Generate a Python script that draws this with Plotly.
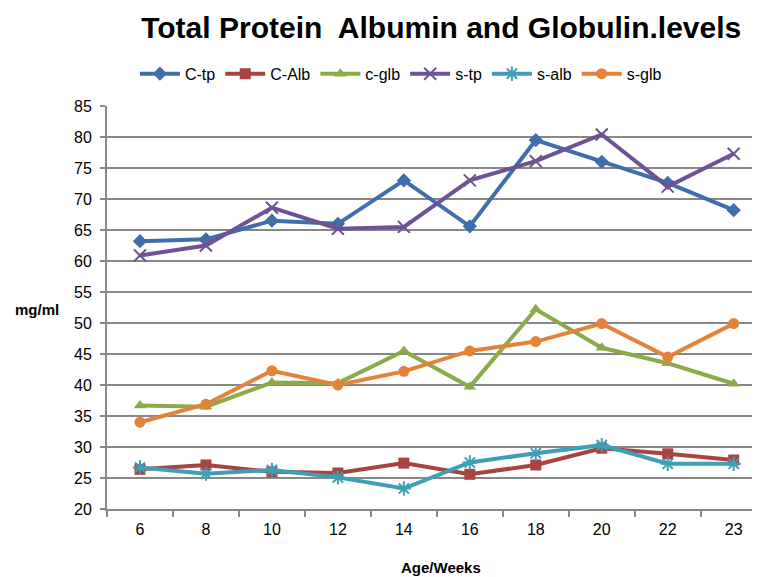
import plotly.graph_objects as go

weeks = ["6", "8", "10", "12", "14", "16", "18", "20", "22", "23"]
c_tp = [63.2, 63.5, 66.5, 66.0, 73.0, 65.6, 79.5, 76.0, 72.6, 68.2]
c_alb = [26.4, 27.1, 26.0, 25.8, 27.4, 25.6, 27.1, 29.8, 28.9, 27.9]
c_glb = [36.7, 36.5, 40.4, 40.3, 45.5, 39.7, 52.2, 46.0, 43.5, 40.2]
s_tp = [60.9, 62.5, 68.6, 65.2, 65.5, 73.0, 76.1, 80.4, 72.0, 77.3]
s_alb = [26.7, 25.7, 26.3, 25.1, 23.3, 27.5, 29.0, 30.3, 27.3, 27.3]
s_glb = [34.0, 36.9, 42.3, 40.0, 42.2, 45.5, 47.0, 49.9, 44.5, 49.9]

series = [
    ("C-tp", c_tp, "#3F6FAA", "diamond"),
    ("C-Alb", c_alb, "#A9433F", "square"),
    ("c-glb", c_glb, "#8AAB4A", "triangle-up"),
    ("s-tp", s_tp, "#6D5394", "x-thin-open"),
    ("s-alb", s_alb, "#3E9FB6", "asterisk-open"),
    ("s-glb", s_glb, "#E5823A", "circle"),
]

fig = go.Figure()
for name, vals, col, sym in series:
    open_sym = sym.endswith("-open")
    fig.add_trace(go.Scatter(
        x=weeks, y=vals, name=name, mode="lines+markers",
        line=dict(color=col, width=4),
        marker=dict(symbol=sym, size=11 if not open_sym else 12, color=col,
                    line=dict(color=col, width=2 if open_sym else 0)),
    ))

fig.update_layout(
    width=760, height=577,
    margin=dict(l=99, r=0, t=98, b=76, autoexpand=False),
    paper_bgcolor="white", plot_bgcolor="white",
    font=dict(family="Liberation Sans, Arial, sans-serif", size=15, color="black"),
    title=dict(text="<b>Total Protein  Albumin and Globulin.levels</b>",
               x=0.570, xanchor="center", y=0.967, yanchor="middle",
               font=dict(size=30, color="black")),
    legend=dict(orientation="h", x=0.517, xref="container", xanchor="center",
                y=0.886, yref="container", yanchor="middle",
                font=dict(size=16), itemwidth=40, tracegroupgap=0),
    showlegend=True,
)
fig.update_xaxes(
    type="category", range=[-0.5, 9.52], tickson="boundaries", automargin=False,
    ticks="outside", ticklen=6, tickcolor="#888888", tickwidth=1.5,
    showline=True, linecolor="#888888", linewidth=2,
    showgrid=False, tickfont=dict(size=16), ticklabelstandoff=5,
)
fig.update_yaxes(
    range=[20, 85], dtick=5, tick0=20, automargin=False,
    ticks="outside", ticklen=5, tickcolor="#888888", tickwidth=1.5,
    showline=True, linecolor="#888888", linewidth=2,
    showgrid=True, gridcolor="#888888", gridwidth=2,
    tickfont=dict(size=16), zeroline=False, ticklabelstandoff=5,
)
fig.add_annotation(text="<b>mg/ml</b>", xref="paper", yref="paper",
                   x=-0.106, y=0.496, xanchor="center", yanchor="middle",
                   showarrow=False, font=dict(size=15))
fig.add_annotation(text="<b>Age/Weeks</b>", xref="paper", yref="paper",
                   x=0.505, y=-0.146, xanchor="center", yanchor="middle",
                   showarrow=False, font=dict(size=15))
fig.write_html("out.html")
